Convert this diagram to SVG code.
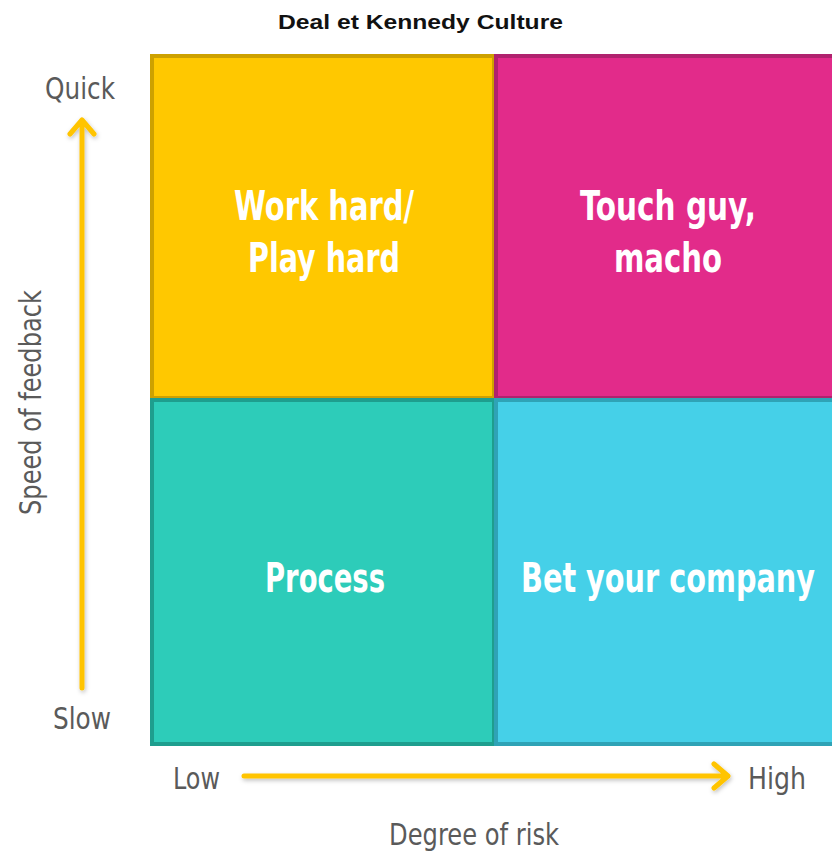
<svg xmlns="http://www.w3.org/2000/svg" width="832" height="854" viewBox="0 0 832 854">
<style>
.q{font-family:"DejaVu Sans Condensed","DejaVu Sans",sans-serif;font-weight:bold;font-size:40px;fill:#fff;text-anchor:middle}
.ax{font-family:"DejaVu Sans Condensed","DejaVu Sans",sans-serif;font-size:30px;fill:#5a5a5a}
.arr{stroke:#FFC400;stroke-width:5;fill:none;stroke-linecap:round;stroke-linejoin:round}
</style>
<defs>
<filter id="sh" x="-20%" y="-20%" width="140%" height="140%">
<feDropShadow dx="1" dy="2" stdDeviation="2" flood-color="#000" flood-opacity="0.25"/>
</filter>
</defs>
<rect width="832" height="854" fill="#fff"/>
<text x="278" y="29" font-family="Liberation Sans,Arial,sans-serif" font-weight="bold" font-size="21" fill="#111" textLength="285" lengthAdjust="spacingAndGlyphs">Deal et Kennedy Culture</text>
<g id="q-workhard">
<rect x="152" y="56" width="342" height="342" fill="#FFC800" stroke="#CDA100" stroke-width="4"/>
<text class="q" x="324" y="220" textLength="180" lengthAdjust="spacingAndGlyphs">Work hard/</text>
<text class="q" x="324" y="272" textLength="152" lengthAdjust="spacingAndGlyphs">Play hard</text>
</g>
<g id="q-tough">
<rect x="496" y="56" width="340" height="342" fill="#E22B8A" stroke="#B0226E" stroke-width="4"/>
<text class="q" x="668" y="220" textLength="176" lengthAdjust="spacingAndGlyphs">Touch guy,</text>
<text class="q" x="668" y="272" textLength="108" lengthAdjust="spacingAndGlyphs">macho</text>
</g>
<g id="q-process">
<rect x="152" y="400" width="342" height="344" fill="#2DCCB9" stroke="#1E9E8E" stroke-width="4"/>
<text class="q" x="325" y="592" textLength="120" lengthAdjust="spacingAndGlyphs">Process</text>
</g>
<g id="q-bet">
<rect x="496" y="400" width="340" height="344" fill="#45D0E8" stroke="#2FA3B6" stroke-width="4"/>
<text class="q" x="668" y="592" textLength="294" lengthAdjust="spacingAndGlyphs">Bet your company</text>
</g>
<g id="connectors" filter="url(#sh)">
<path class="arr" d="M82 688 V120 M70 134 L82 120 L94 134"/>
<path class="arr" d="M244 776 H728 M714 764 L728 776 L714 788"/>
</g>
<g id="labels">
<text class="ax" x="45" y="99" textLength="70" lengthAdjust="spacingAndGlyphs">Quick</text>
<text class="ax" x="53" y="729" textLength="58" lengthAdjust="spacingAndGlyphs">Slow</text>
<text class="ax" x="173" y="789" textLength="47" lengthAdjust="spacingAndGlyphs">Low</text>
<text class="ax" x="748" y="789" textLength="58" lengthAdjust="spacingAndGlyphs">High</text>
<text class="ax" x="389" y="845" textLength="170" lengthAdjust="spacingAndGlyphs">Degree of risk</text>
<text class="ax" transform="translate(41,515) rotate(-90)" x="0" y="0" textLength="225" lengthAdjust="spacingAndGlyphs">Speed of feedback</text>
</g>
</svg>
